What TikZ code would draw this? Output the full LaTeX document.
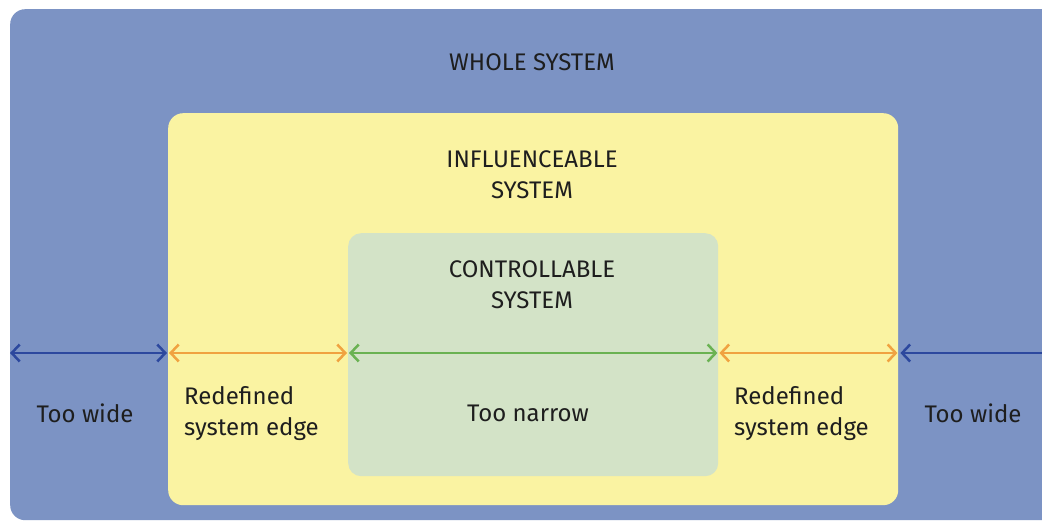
\documentclass[tikz,border=0pt]{standalone}
\usepackage{fontspec}
\setmainfont{Fira Sans}
\usepackage{xcolor}
\usetikzlibrary{arrows.meta}

\definecolor{wholeblue}{RGB}{124,147,196}
\definecolor{inflyellow}{RGB}{250,243,162}
\definecolor{ctrlgreen}{RGB}{211,227,199}
\definecolor{darkblue}{RGB}{44,72,158}
\definecolor{edgeorange}{RGB}{240,162,64}
\definecolor{edgegreen}{RGB}{106,178,82}
\definecolor{textgray}{RGB}{30,30,30}

\tikzset{
  panel/.style={rounded corners=15pt, anchor=north west, inner sep=0pt},
  lbl/.style={text=textgray, font=\fontsize{24}{31}\selectfont, align=center, inner sep=0pt},
  lbll/.style={lbl, align=left, anchor=west},
  barb/.style={line width=2.5pt, >={Straight Barb[length=8pt,width=17pt]}},
  dimarr/.style={barb, <->}
}

\begin{document}
\begin{tikzpicture}[x=1pt,y=-1pt]
        \clip (0,0) rectangle (1042,522);
        \fill[white] (0,0) rectangle (1042,522);

        % the three systems
        \node[panel, fill=wholeblue, minimum width=1080pt, minimum height=511pt] (whole) at (10,9) {};
        \node[panel, fill=inflyellow, minimum width=730pt, minimum height=392pt] (infl) at (168,113) {};
        \node[panel, fill=ctrlgreen, rounded corners=13pt, minimum width=370pt, minimum height=243pt] (ctrl) at (348,233) {};

        \node[lbl] (wholet) at (532,62) {WHOLE SYSTEM};
        \node[lbl] (inflt) at (532,175) {INFLUENCEABLE\\SYSTEM};
        \node[lbl] (ctrlt) at (532,285) {CONTROLLABLE\\SYSTEM};

        % edges of the systems
        \coordinate (lend) at (10,353);
        \coordinate (rend) at (1042,353);
        \coordinate (il) at (infl.west |- lend);
        \coordinate (cl) at (ctrl.west |- lend);
        \coordinate (cr) at (ctrl.east |- lend);
        \coordinate (ir) at (infl.east |- lend);

        \draw[dimarr, darkblue] (lend) -- ([xshift=-1pt]il);
        \draw[dimarr, edgeorange] ([xshift=1pt]il) -- ([xshift=-1pt]cl);
        \draw[dimarr, edgegreen] ([xshift=1pt]cl) -- ([xshift=-1pt]cr);
        \draw[dimarr, edgeorange] ([xshift=1pt]cr) -- ([xshift=-1pt]ir);
        \draw[barb, <-, darkblue] ([xshift=2pt]ir) -- (rend);

        \node[lbl] (widel) at (85,413) {Too wide};
        \node[lbll] (redefl) at (184,414) {Redefined\\system edge};
        \node[lbl] (narrow) at (528,413) {Too narrow};
        \node[lbll] (redefr) at (734,414) {Redefined\\system edge};
        \node[lbl] (wider) at (973,413) {Too wide};
    \end{tikzpicture}
\end{document}
